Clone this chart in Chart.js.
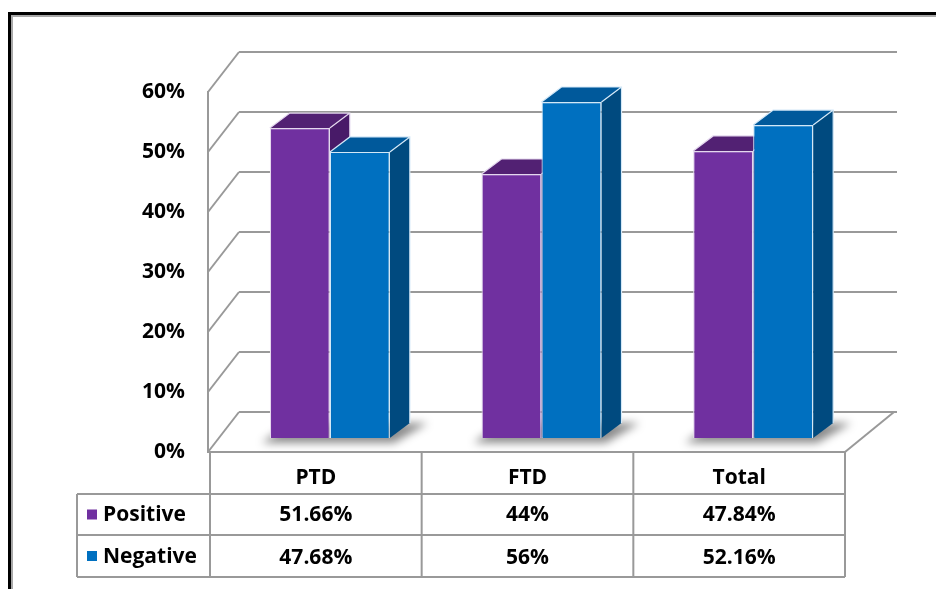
<!DOCTYPE html>
<html>
<head>
<meta charset="utf-8">
<title>PTD / FTD</title>
<script src="https://cdn.jsdelivr.net/npm/chart.js@4.4.1/dist/chart.umd.min.js"></script>
<style>
  html, body { margin: 0; padding: 0; background: #fff; }
  #wrap { width: 936px; height: 589px; }
</style>
</head>
<body>
<div id="wrap"><canvas id="chart" width="936" height="589"></canvas></div>
<script>
// === DATA ===
const categories = ["PTD", "FTD", "Total"];
const seriesNames = ["Positive", "Negative"];
const positive = [51.66, 44, 47.84];
const negative = [47.68, 56, 52.16];
const yTicks = [0, 10, 20, 30, 40, 50, 60];

// === LOOK ===
const FONT = "'Open Sans', 'Noto Sans', sans-serif";
const GRID = "#999999";
const DEPTH = { dx: 14, dy: -14 };    // columns stand a bit behind the front edge
const BAR3D = { dx: 20, dy: -15 };    // column thickness
const BACK = { dxL: 29, dxR: 52, dy: -40 }; // back wall offset (left / right)
const TABLE = { legendLeft: 77, rowH: [42, 41, 42] };

const faces = [
  { front: "#7030a0", top: "#522173", side: "#481a68", edge: "#e4d8ee" },
  { front: "#0070c0", top: "#00599b", side: "#004a7f", edge: "#d3e8f7" }
];

function backX(x, area) {
  return x + BACK.dxL + (x - area.left) / (area.right - area.left) * (BACK.dxR - BACK.dxL);
}

function poly(ctx, pts, fill) {
  ctx.beginPath();
  ctx.moveTo(pts[0][0], pts[0][1]);
  for (let i = 1; i < pts.length; i++) ctx.lineTo(pts[i][0], pts[i][1]);
  ctx.closePath();
  ctx.fillStyle = fill;
  ctx.fill();
}

const box3d = {
  id: "box3d",
  beforeDraw(chart) {
    const ctx = chart.ctx;
    ctx.save();
    // outer double frame
    ctx.fillStyle = "#000";
    ctx.fillRect(8, 12, 3, 600);
    ctx.fillRect(8, 12, 1000, 3);
    ctx.fillStyle = "#a8a8a8";
    ctx.fillRect(11, 15, 2, 600);
    ctx.fillRect(11, 15, 1000, 2);
    ctx.restore();
  },
  beforeDatasetsDraw(chart) {
    const ctx = chart.ctx;
    const area = chart.chartArea;
    const ys = chart.scales.y;
    const y0 = ys.getPixelForValue(0);
    const bl = backX(area.left, area), br = backX(area.right, area);

    ctx.save();
    ctx.strokeStyle = GRID;
    ctx.lineWidth = 2;
    ctx.lineCap = "butt";
    // back wall lines + left wall diagonals
    yTicks.forEach(v => {
      const yf = ys.getPixelForValue(v);
      ctx.beginPath();
      ctx.moveTo(bl, yf + BACK.dy);
      ctx.lineTo(br, yf + BACK.dy);
      ctx.stroke();
      ctx.beginPath();
      ctx.moveTo(area.left - 2, yf);
      ctx.lineTo(bl, yf + BACK.dy);
      ctx.stroke();
    });
    // left front edge
    ctx.beginPath();
    ctx.moveTo(area.left - 2, ys.getPixelForValue(yTicks[yTicks.length - 1]) - 1);
    ctx.lineTo(area.left - 2, y0);
    ctx.stroke();
    // floor right edge
    ctx.beginPath();
    ctx.moveTo(area.right, y0);
    ctx.lineTo(br - 3, y0 + BACK.dy);
    ctx.stroke();

    // soft shadows under each group
    const metas = chart.data.datasets.map((d, i) => chart.getDatasetMeta(i));
    ctx.filter = "blur(4px)";
    categories.forEach((c, j) => {
      const a = metas[0].data[j], b = metas[metas.length - 1].data[j];
      const gl = a.x - a.width / 2 + DEPTH.dx;
      const gr = b.x + b.width / 2 + DEPTH.dx;
      const bottom = a.base + DEPTH.dy;
      poly(ctx, [[gl - 8, bottom + 5], [gr + 4, bottom + 5],
                 [gr + BAR3D.dx + 18, bottom + BAR3D.dy], [gl + BAR3D.dx, bottom + BAR3D.dy]],
           "rgba(0,0,0,0.45)");
    });
    ctx.filter = "none";

    // side and top faces, group by group
    categories.forEach((c, j) => {
      metas.forEach((meta, i) => {
        const el = meta.data[j];
        const f = faces[i];
        const l = el.x - el.width / 2 + DEPTH.dx;
        const r = el.x + el.width / 2 + DEPTH.dx;
        const t = el.y + DEPTH.dy;
        const btm = el.base + DEPTH.dy;
        const side = [[r, t], [r + BAR3D.dx, t + BAR3D.dy], [r + BAR3D.dx, btm + BAR3D.dy], [r, btm]];
        const top = [[l, t], [l + BAR3D.dx, t + BAR3D.dy], [r + BAR3D.dx, t + BAR3D.dy], [r, t]];
        poly(ctx, side, f.side);
        poly(ctx, top, f.top);
        ctx.strokeStyle = f.edge;
        ctx.lineWidth = 1.2;
        ctx.beginPath();
        ctx.moveTo(l, t);
        ctx.lineTo(l + BAR3D.dx, t + BAR3D.dy);
        ctx.lineTo(r + BAR3D.dx, t + BAR3D.dy);
        ctx.lineTo(r + BAR3D.dx, btm + BAR3D.dy);
        ctx.moveTo(r, t);
        ctx.lineTo(r + BAR3D.dx, t + BAR3D.dy);
        ctx.stroke();
      });
    });
    // front faces are drawn by Chart.js, shifted into the same depth
    ctx.translate(DEPTH.dx, DEPTH.dy);
  },
  afterDatasetsDraw(chart) {
    chart.ctx.restore();
  },
  afterDraw(chart) {
    const ctx = chart.ctx;
    const xs = chart.scales.x;
    const ys = chart.scales.y;
    const y0 = ys.getPixelForValue(0);
    const colW = xs.width / categories.length;
    const r1 = y0 + TABLE.rowH[0], r2 = r1 + TABLE.rowH[1], r3 = r2 + TABLE.rowH[2];

    ctx.save();
    ctx.strokeStyle = GRID;
    ctx.lineWidth = 2;
    ctx.beginPath();
    ctx.moveTo(xs.left - 3, y0); ctx.lineTo(xs.right, y0);
    [r1, r2, r3].forEach(y => { ctx.moveTo(TABLE.legendLeft, y); ctx.lineTo(xs.right, y); });
    for (let k = 0; k <= categories.length; k++) {
      const x = xs.left + k * colW;
      ctx.moveTo(x, y0); ctx.lineTo(x, r3);
    }
    ctx.moveTo(TABLE.legendLeft, r1); ctx.lineTo(TABLE.legendLeft, r3);
    ctx.stroke();

    ctx.fillStyle = "#000";
    ctx.textAlign = "center";
    ctx.textBaseline = "middle";
    ctx.font = "bold 21px " + FONT;
    categories.forEach((c, j) => {
      const cx = xs.left + (j + 0.5) * colW;
      ctx.fillText(c, cx, (y0 + r1) / 2 + 5);
      ctx.fillText(positive[j] + "%", cx, (r1 + r2) / 2 + 1);
      ctx.fillText(negative[j] + "%", cx, (r2 + r3) / 2 + 2);
    });

    // legend keys
    ctx.textAlign = "left";
    [[r1, r2], [r2, r3]].forEach((rr, i) => {
      const cy = (rr[0] + rr[1]) / 2;
      ctx.fillStyle = faces[i].front;
      ctx.fillRect(TABLE.legendLeft + 10, cy - 5, 10, 10);
      ctx.fillStyle = "#000";
      ctx.fillText(seriesNames[i], TABLE.legendLeft + 26, cy + 1);
    });
    ctx.restore();
  }
};

const ctx = document.getElementById("chart").getContext("2d");
new Chart(ctx, {
  type: "bar",
  data: {
    labels: categories,
    datasets: [
      { label: seriesNames[0], data: positive, backgroundColor: faces[0].front, borderColor: faces[0].edge, borderWidth: 1.2 },
      { label: seriesNames[1], data: negative, backgroundColor: faces[1].front, borderColor: faces[1].edge, borderWidth: 1.2 }
    ]
  },
  options: {
    responsive: false,
    animation: false,
    layout: { padding: { top: 92, right: 91, bottom: 137, left: 0 } },
    datasets: { bar: { categoryPercentage: 0.567, barPercentage: 1 } },
    plugins: { legend: { display: false }, tooltip: { enabled: false } },
    scales: {
      x: { display: false },
      y: {
        min: 0,
        max: 60,
        afterFit: s => { s.width = 210; },
        grid: { display: false, drawTicks: false },
        border: { display: false },
        ticks: {
          stepSize: 10,
          padding: 25,
          color: "#000",
          font: { family: FONT, size: 21, weight: "bold" },
          callback: v => v + "%"
        }
      }
    }
  },
  plugins: [box3d]
});
</script>
</body>
</html>
